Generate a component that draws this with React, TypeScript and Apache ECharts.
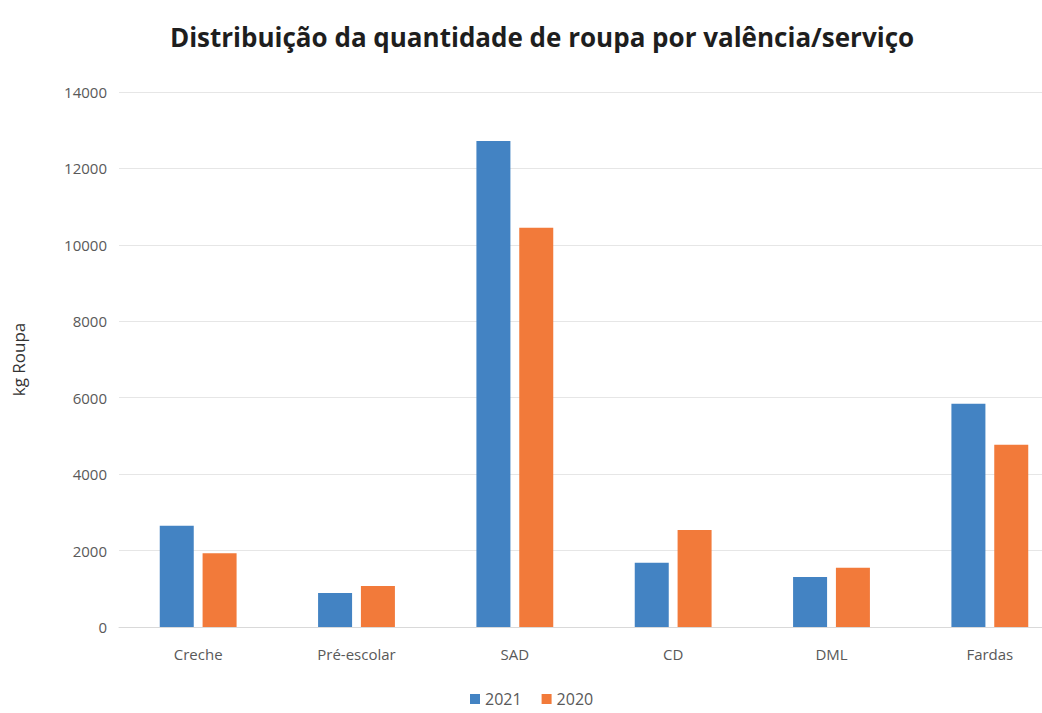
import React, { useEffect, useRef } from "react";
import * as echarts from "echarts";

const categories = ["Creche", "Pré-escolar", "SAD", "CD", "DML", "Fardas"];
const values2021 = [2650, 890, 12720, 1680, 1310, 5840];
const values2020 = [1930, 1070, 10450, 2540, 1550, 4770];
const yTicks = { min: 0, max: 14000, interval: 2000 };

export default function App() {
  const ref = useRef<HTMLDivElement>(null);
  useEffect(() => {
    if (!ref.current) return;
    const chart = echarts.init(ref.current, null, { renderer: "svg" });
    chart.setOption({
      animation: false,
      backgroundColor: "#ffffff",
      title: {
        text: "Distribuição da quantidade de roupa por valência/serviço",
        left: 537,
        top: 19,
        textAlign: "center",
        textStyle: {
          fontFamily: "Open Sans",
          fontWeight: "bold",
          fontSize: 26,
          color: "#1e1e1e",
        },
      },
      legend: {
        data: ["2021", "2020"],
        bottom: 1,
        left: 465,
        itemWidth: 10,
        itemHeight: 10,
        itemGap: 20,
        icon: "rect",
        textStyle: { fontFamily: "Open Sans", fontSize: 16, color: "#595959" },
      },
      grid: { left: 119, top: 92, bottom: 86, width: 950, containLabel: false },
      xAxis: {
        type: "category",
        data: categories,
        axisLine: { show: true, lineStyle: { color: "#d9d9d9" } },
        axisTick: { show: false },
        axisLabel: {
          fontFamily: "Open Sans",
          fontSize: 15,
          color: "#595959",
          margin: 19,
        },
      },
      yAxis: {
        type: "value",
        min: yTicks.min,
        max: yTicks.max,
        interval: yTicks.interval,
        name: "kg Roupa",
        nameLocation: "middle",
        nameGap: 92,
        nameTextStyle: { fontFamily: "Open Sans", fontSize: 17, color: "#333" },
        axisLine: { show: false },
        axisTick: { show: false },
        axisLabel: {
          fontFamily: "Open Sans",
          fontSize: 15,
          color: "#595959",
          margin: 12,
          formatter: (v: number) => String(v),
        },
        splitLine: { lineStyle: { color: "#e6e6e6" } },
      },
      series: [
        {
          name: "2021",
          type: "bar",
          data: values2021,
          barWidth: 34,
          barGap: "26%",
          itemStyle: { color: "#4383c3" },
        },
        {
          name: "2020",
          type: "bar",
          data: values2020,
          barWidth: 34,
          itemStyle: { color: "#f27a3a" },
        },
      ],
    });
    return () => chart.dispose();
  }, []);
  return (
    <div style={{ width: 1042, height: 713, overflow: "hidden", position: "fixed", left: 0, top: 0 }}>
      <div ref={ref} style={{ width: 1100, height: 713 }} />
    </div>
  );
}
